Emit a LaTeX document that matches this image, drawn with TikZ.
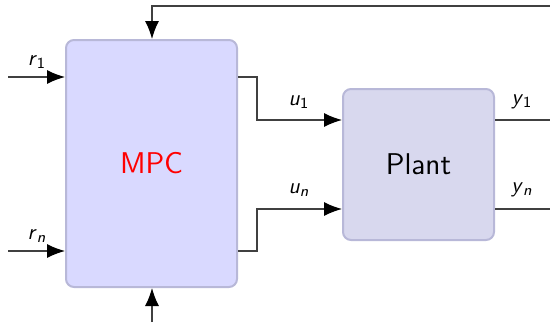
\documentclass[tikz,border=0pt]{standalone}
\usetikzlibrary{arrows.meta}
\newcommand\sig[2]{\textsf{\textit{#1}}\textsubscript{\textsf{#2}}}
\definecolor{mpcfill}{RGB}{217,217,255}
\definecolor{plantfill}{RGB}{216,216,238}
\definecolor{boxline}{RGB}{184,184,216}
\tikzset{
  blockbox/.style={draw=boxline, line width=1pt, rounded corners=4pt, font=\sffamily\fontsize{15}{18}\selectfont},
  conn/.style={draw=black!75, line width=0.6pt},
  arr/.style={conn, -{Latex[length=9pt,width=7pt,color=black]}},
  sigl/.style={font=\fontsize{11}{13}\selectfont}
}
\begin{document}
\begin{tikzpicture}[x=0.5pt,y=-0.5pt]
\useasboundingbox (0,0) rectangle (550,322);
\node[blockbox, fill=mpcfill, minimum width=85.5pt, minimum height=123.5pt, text=red] (mpc) at (151.5,163.5) {MPC};
\node[blockbox, fill=plantfill, minimum width=75.5pt, minimum height=75.5pt] (plant) at (418.5,164.5) {Plant};
\coordinate (r1) at (8,77);
\coordinate (rn) at (8,251);
\coordinate (y1) at (550,120);
\coordinate (yn) at (550,209);
\coordinate (fbtop) at (550,6);
\coordinate (bot) at (152,322);
\coordinate (u1s) at (257,77);
\coordinate (uns) at (257,251);
\draw[arr] (r1) -- (r1 -| mpc.west);
\draw[arr] (rn) -- (rn -| mpc.west);
\draw[arr] (u1s -| mpc.east) -- (u1s) |- (u1s |- y1) -- (y1 -| plant.west);
\draw[arr] (uns -| mpc.east) -- (uns) -- (uns |- yn) -- (yn -| plant.west);
\draw[conn] (y1 -| plant.east) -- (y1);
\draw[conn] (yn -| plant.east) -- (yn);
\draw[arr] (fbtop) -- (fbtop -| bot) -- (bot |- mpc.north);
\draw[arr] (bot) -- (bot |- mpc.south);
\node[sigl] (lr1) at (37,62) {\sig{r}{1}};
\node[sigl] (lrn) at (37,236) {\sig{r}{\textit{n}}};
\node[sigl] (lu1) at (299,102) {\sig{u}{1}};
\node[sigl] (lun) at (299,190) {\sig{u}{\textit{n}}};
\node[sigl] (ly1) at (522,102) {\sig{y}{1}};
\node[sigl] (lyn) at (522,190) {\sig{y}{\textit{n}}};
\end{tikzpicture}
\end{document}
